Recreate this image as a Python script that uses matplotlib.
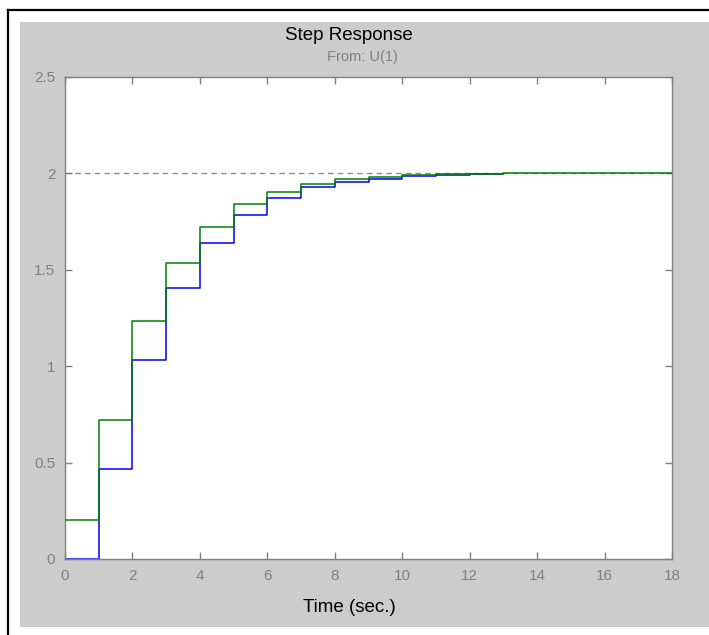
import matplotlib
matplotlib.use("Agg")
import matplotlib.pyplot as plt
from matplotlib.patches import Rectangle
from matplotlib.lines import Line2D

plt.rcParams['font.family'] = ['Liberation Sans', 'DejaVu Sans']

# Data
blue_t = [0, 1, 2, 3, 4, 5, 6, 7, 8, 9, 10, 11, 12, 13]
blue_y = [0.0, 0.466, 1.034, 1.407, 1.640, 1.786, 1.871, 1.928, 1.957, 1.972, 1.987, 1.992, 1.996, 1.996]
green_t = [0, 1, 2, 3, 4, 5, 6, 7, 8, 9, 10, 11, 12, 13, 14, 15, 16, 17, 18]
green_y = [0.20, 0.721, 1.235, 1.537, 1.724, 1.841, 1.902, 1.943, 1.969, 1.980, 1.991, 1.996, 1.998,
           2.0, 2.0, 2.0, 2.0, 2.0, 2.0]
final_value = 2.0
x_ticks = [0, 2, 4, 6, 8, 10, 12, 14, 16, 18]
y_ticks = [0, 0.5, 1, 1.5, 2, 2.5]
y_ticklabels = ['0', '0.5', '1', '1.5', '2', '2.5']

W, H = 709, 635
fig = plt.figure(figsize=(W / 100, H / 100), dpi=100)
fig.patch.set_facecolor('white')

# gray panel
fig.patches.append(Rectangle((20 / W, 1 - 627 / H), 1 - 20 / W, (627 - 22) / H,
                             transform=fig.transFigure, facecolor='#cccccc',
                             edgecolor='none', zorder=-10))
# black frame lines (top and left)
fig.add_artist(Line2D([8 / W, 1], [1 - 10 / H, 1 - 10 / H], transform=fig.transFigure,
                      color='black', linewidth=1.6))
fig.add_artist(Line2D([8 / W, 8 / W], [0, 1 - 10 / H], transform=fig.transFigure,
                      color='black', linewidth=1.6))

ax = fig.add_axes([65 / W, 1 - 559 / H, (672 - 65) / W, (559 - 77) / H])
ax.set_zorder(5)
ax.set_facecolor('white')

ax.plot([0, 18], [final_value, final_value], linestyle=(0, (4, 3)), color='#8c8c8c',
        linewidth=1.0, zorder=1)
ax.step(blue_t, blue_y, where='post', color='#0000ff', linewidth=1.1, zorder=2)
ax.step(green_t, green_y, where='post', color='#008000', linewidth=1.1, zorder=3)

ax.set_xlim(0, 18)
ax.set_ylim(0, 2.5)
ax.set_xticks(x_ticks)
ax.set_xticklabels([str(v) for v in x_ticks])
ax.set_yticks(y_ticks)
ax.set_yticklabels(y_ticklabels)

gray = '#808080'
for s in ax.spines.values():
    s.set_color(gray)
    s.set_linewidth(1.0)
ax.tick_params(direction='in', length=5, width=1.0, color=gray, labelcolor=gray,
               labelsize=11, top=True, right=True, pad=7)
ax.tick_params(axis='y', pad=7)

fig.text(349 / W, 1 - 608 / H, 'Time (sec.)', ha='center', va='center', fontsize=13.5, color='black')
fig.text(349 / W, 1 - 36 / H, 'Step Response', ha='center', va='center', fontsize=13.5, color='black')
fig.text(362 / W, 1 - 57 / H, 'From: U(1)', ha='center', va='center', fontsize=10.5, color=gray)

fig.savefig('out.png', dpi=100, facecolor='white')
